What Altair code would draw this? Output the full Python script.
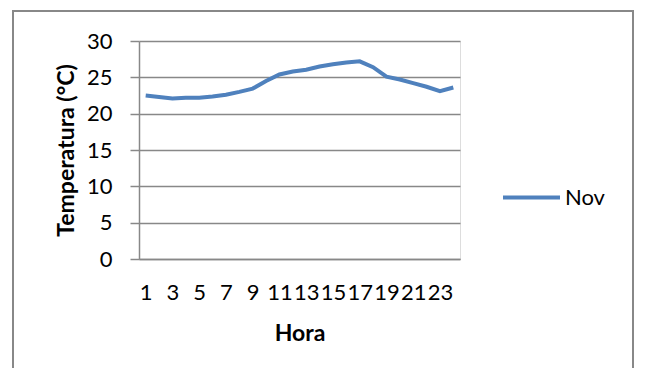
import altair as alt
import pandas as pd

horas = list(range(1, 25))
nov = [22.5, 22.3, 22.1, 22.2, 22.2, 22.35, 22.6, 23.0, 23.45, 24.5, 25.4, 25.8,
       26.05, 26.5, 26.8, 27.05, 27.2, 26.4, 25.1, 24.7, 24.2, 23.7, 23.1, 23.6]
serie = ["Nov"] * 24

df = pd.DataFrame({"Hora": horas, "Temp": nov, "Serie": serie})

FONT = "Lato"
GRAY = "#888888"

line = alt.Chart(df).mark_line(strokeWidth=4, color="#4F81BD").encode(
    x=alt.X("Hora:O", title="Hora",
            axis=alt.Axis(labelAngle=0, labelExpr="datum.value % 2 == 1 ? datum.label : ''",
                          labelFontSize=22, labelColor="black", labelFont=FONT,
                          labelPadding=23, ticks=False, labelOverlap=False,
                          domainColor=GRAY, domainWidth=1.5, grid=False,
                          titleFontSize=23, titleFont=FONT, titleFontWeight="bold",
                          titleColor="black", titlePadding=19)),
    y=alt.Y("Temp:Q", title="Temperatura (°C)",
            scale=alt.Scale(domain=[0, 30], nice=False, zero=True),
            axis=alt.Axis(values=[0, 5, 10, 15, 20, 25, 30], labelFontSize=22,
                          labelColor="black", labelFont=FONT, labelPadding=18,
                          tickSize=9, tickColor=GRAY, tickWidth=1.5,
                          domainColor=GRAY, domainWidth=1.5,
                          gridColor=GRAY, gridWidth=1.5,
                          titleFontSize=23, titleFont=FONT, titleFontWeight="bold",
                          titleColor="black", titlePadding=8)),
    stroke=alt.Stroke("Serie:N", scale=alt.Scale(range=["#4F81BD"]),
                      legend=alt.Legend(title=None, orient="none", legendX=362, legendY=126,
                                        symbolType="stroke", symbolSize=3249,
                                        symbolStrokeWidth=4, labelFontSize=22,
                                        labelFont=FONT, labelColor="black", labelOffset=3)),
)

frame = alt.Chart(df).mark_rect(fill=None, stroke=GRAY, strokeWidth=2).encode(
    x=alt.value(-126), x2=alt.value(494), y=alt.value(-30), y2=alt.value(345)
)

chart = alt.layer(frame, line).properties(
    width=321, height=218,
    autosize=alt.AutoSizeParams(type="none"),
    padding={"left": 131, "top": 33, "right": 185, "bottom": 109},
).configure_view(stroke=None).configure(background="white")

chart.save("out.html", embed_options={"renderer": "svg", "actions": False})
